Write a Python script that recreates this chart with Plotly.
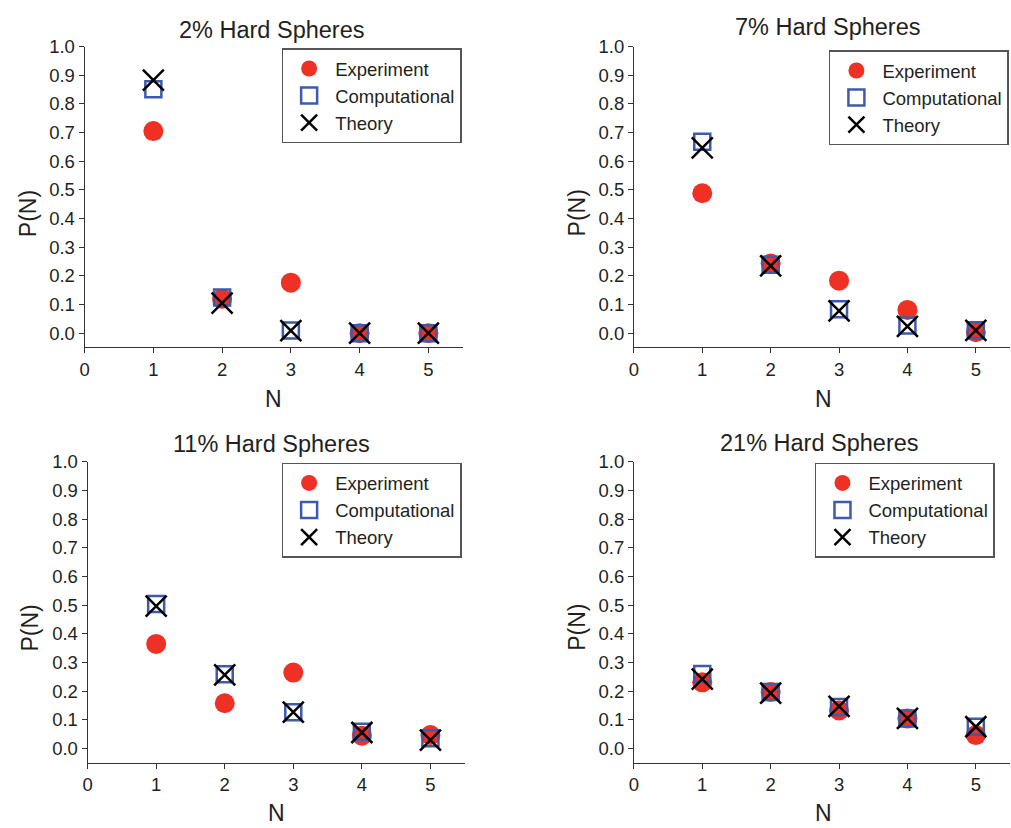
import plotly.graph_objects as go

W, H = 1011, 828

N = [1, 2, 3, 4, 5]
titles = ["2% Hard Spheres", "7% Hard Spheres", "11% Hard Spheres", "21% Hard Spheres"]

exp_2 = [0.705, 0.120, 0.176, 0.0, 0.0]
comp_2 = [0.851, 0.124, 0.009, 0.0, 0.0]
theo_2 = [0.883, 0.105, 0.009, 0.0, 0.0]

exp_7 = [0.488, 0.243, 0.183, 0.081, 0.003]
comp_7 = [0.668, 0.239, 0.083, 0.027, 0.010]
theo_7 = [0.646, 0.235, 0.078, 0.024, 0.010]

exp_11 = [0.365, 0.158, 0.265, 0.045, 0.047]
comp_11 = [0.504, 0.259, 0.127, 0.059, 0.036]
theo_11 = [0.497, 0.257, 0.127, 0.056, 0.029]

exp_21 = [0.231, 0.197, 0.133, 0.105, 0.047]
comp_21 = [0.260, 0.197, 0.145, 0.105, 0.076]
theo_21 = [0.242, 0.193, 0.147, 0.105, 0.076]

y_ticks = [0.0, 0.1, 0.2, 0.3, 0.4, 0.5, 0.6, 0.7, 0.8, 0.9, 1.0]
x_ticks = [0, 1, 2, 3, 4, 5]

series = [(exp_2, comp_2, theo_2), (exp_7, comp_7, theo_7),
          (exp_11, comp_11, theo_11), (exp_21, comp_21, theo_21)]

FONT = "Arial, Liberation Sans, sans-serif"
RED = "#EE3124"
BLUE = "#3D5BAA"
TXT = "#231F20"

# pixel boxes of each plot area: (left, right, top, bottom)
boxes = [(80, 460, 36, 341), (632, 1010, 36, 341), (83, 462, 457, 762), (632, 1010, 457, 762)]
legend_pos = [(278, 38), (828, 40), (278, 458), (814, 458)]
title_pos = [(268, 19), (827, 16), (268, 439), (819, 438)]
ylab_pos = [(23, 205), (575, 205), (25, 625), (575, 625)]
xlab_pos = [(270, 393), (823, 393), (273, 813), (823, 813)]

def px(x):
    return x / W

def py(y):
    return 1 - y / H

fig = go.Figure()
layout = dict(width=W, height=H, margin=dict(l=0, r=0, t=0, b=0),
              paper_bgcolor="white", plot_bgcolor="white",
              font=dict(family=FONT, color=TXT), annotations=[])

for i, (e, c, t) in enumerate(series):
    k = "" if i == 0 else str(i + 1)
    xa, ya = "x" + k, "y" + k
    lg = "legend" + k
    fig.add_trace(go.Scatter(x=N, y=e, mode="markers", name="Experiment",
                             marker=dict(symbol="circle", size=20, color=RED),
                             xaxis=xa, yaxis=ya, legend=lg))
    fig.add_trace(go.Scatter(x=N, y=c, mode="markers", name="Computational",
                             marker=dict(symbol="square-open", size=16, color=BLUE,
                                         line=dict(width=2.5, color=BLUE)),
                             xaxis=xa, yaxis=ya, legend=lg))
    fig.add_trace(go.Scatter(x=N, y=t, mode="markers", name="Theory",
                             marker=dict(symbol="x-thin-open", size=21, color="black",
                                         line=dict(width=2.5, color="black")),
                             xaxis=xa, yaxis=ya, legend=lg))
    l, r, tp, b = boxes[i]
    axcommon = dict(showline=True, linecolor="#333333", linewidth=1, ticks="outside",
                    ticklen=5, tickcolor="#333333", showgrid=False, zeroline=False,
                    tickfont=dict(size=18.5, family=FONT, color=TXT))
    layout["xaxis" + k] = dict(domain=[px(l), px(r)], range=[0, 5.5], tickvals=x_ticks,
                               anchor=ya, **axcommon)
    layout["yaxis" + k] = dict(domain=[py(b), py(tp)], range=[-0.05, 1.0], tickvals=y_ticks,
                               tickformat=".1f", anchor=xa, **axcommon)
    lx, ly = legend_pos[i]
    layout[lg] = dict(x=px(lx), y=py(ly), xanchor="left", yanchor="top",
                      bordercolor="#555555", borderwidth=1.5, bgcolor="white",
                      font=dict(size=18.5, family=FONT, color=TXT),
                      tracegroupgap=0, itemsizing="trace", itemwidth=42)
    tx, ty = title_pos[i]
    layout["annotations"].append(dict(text=titles[i], x=px(tx), y=py(ty), xref="paper", yref="paper",
                                      showarrow=False, xanchor="center", yanchor="middle",
                                      font=dict(size=23.5, family=FONT, color=TXT)))
    yx, yy = ylab_pos[i]
    layout["annotations"].append(dict(text="P(N)", x=px(yx), y=py(yy), xref="paper", yref="paper",
                                      showarrow=False, xanchor="center", yanchor="middle", textangle=-90,
                                      font=dict(size=23, family=FONT, color=TXT)))
    nx, ny = xlab_pos[i]
    layout["annotations"].append(dict(text="N", x=px(nx), y=py(ny), xref="paper", yref="paper",
                                      showarrow=False, xanchor="center", yanchor="middle",
                                      font=dict(size=23, family=FONT, color=TXT)))

fig.update_layout(**layout)
fig.write_html("out.html")
